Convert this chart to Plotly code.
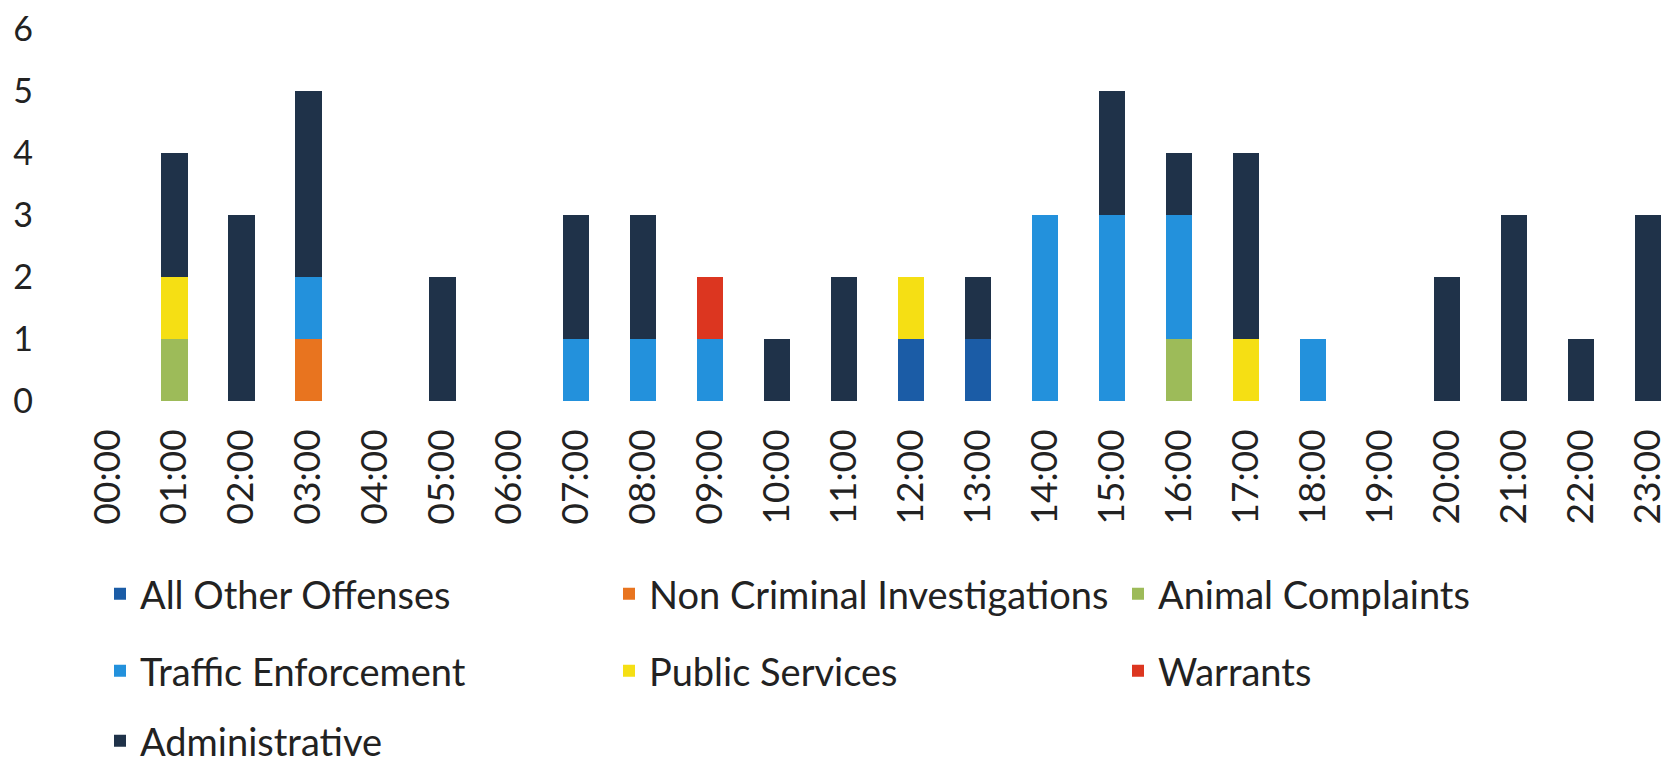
import plotly.graph_objects as go

hours = [f"{h:02d}:00" for h in range(24)]

all_other = [0,0,0,0,0,0,0,0,0,0,0,0,1,1,0,0,0,0,0,0,0,0,0,0]
non_criminal = [0,0,0,1,0,0,0,0,0,0,0,0,0,0,0,0,0,0,0,0,0,0,0,0]
animal = [0,1,0,0,0,0,0,0,0,0,0,0,0,0,0,0,1,0,0,0,0,0,0,0]
traffic = [0,0,0,1,0,0,0,1,1,1,0,0,0,0,3,3,2,0,1,0,0,0,0,0]
public = [0,1,0,0,0,0,0,0,0,0,0,0,1,0,0,0,0,1,0,0,0,0,0,0]
warrants = [0,0,0,0,0,0,0,0,0,1,0,0,0,0,0,0,0,0,0,0,0,0,0,0]
admin = [0,2,3,3,0,2,0,2,2,0,1,2,0,1,0,2,1,3,0,0,2,3,1,3]

series = [
    ("All Other Offenses", all_other, "#1b5ca6", "legend"),
    ("Non Criminal Investigations", non_criminal, "#e8741f", "legend"),
    ("Animal Complaints", animal, "#9dbb59", "legend"),
    ("Traffic Enforcement", traffic, "#2391dc", "legend2"),
    ("Public Services", public, "#f5df14", "legend2"),
    ("Warrants", warrants, "#dc3620", "legend2"),
    ("Administrative", admin, "#1f3249", "legend3"),
]

fig = go.Figure()
for name, vals, color, lg in series:
    fig.add_trace(go.Bar(
        x=hours, y=vals, name=name, marker=dict(color=color, line=dict(width=0)),
        legend=lg,
    ))

FONT = "Lato, 'Open Sans', sans-serif"
W, H = 1673, 765
L, T, B = 74, 29, 364

def cy(px):
    return 1 - px / H

def cx(px):
    return px / W

leg_common = dict(orientation="h", entrywidth=464, entrywidthmode="pixels",
                  font=dict(family=FONT, size=38, color="#222222"),
                  bgcolor="rgba(0,0,0,0)", xanchor="left", yanchor="middle",
                  xref="container", yref="container",
                  traceorder="normal", itemwidth=30)

fig.update_layout(
    width=W, height=H,
    margin=dict(l=L, r=0, t=T, b=B, autoexpand=False),
    barmode="stack", bargap=0.61,
    plot_bgcolor="white", paper_bgcolor="white",
    font=dict(family=FONT, color="#222222"),
    xaxis=dict(range=[-0.5, 23.37], tickangle=-90, showgrid=False, showline=False,
               zeroline=False, ticks="", tickfont=dict(size=37, family=FONT, color="#222222"),
               ticklabelstandoff=20),
    yaxis=dict(range=[0, 6], dtick=1, showgrid=False, showline=False, zeroline=False,
               ticks="", tickfont=dict(size=34, family=FONT, color="#222222"),
               ticklabelstandoff=40),
    legend=dict(x=cx(100), y=cy(594), **leg_common),
    legend2=dict(x=cx(100), y=cy(671), **leg_common),
    legend3=dict(x=cx(100), y=cy(741), **leg_common),
)

fig.write_html("out.html")
